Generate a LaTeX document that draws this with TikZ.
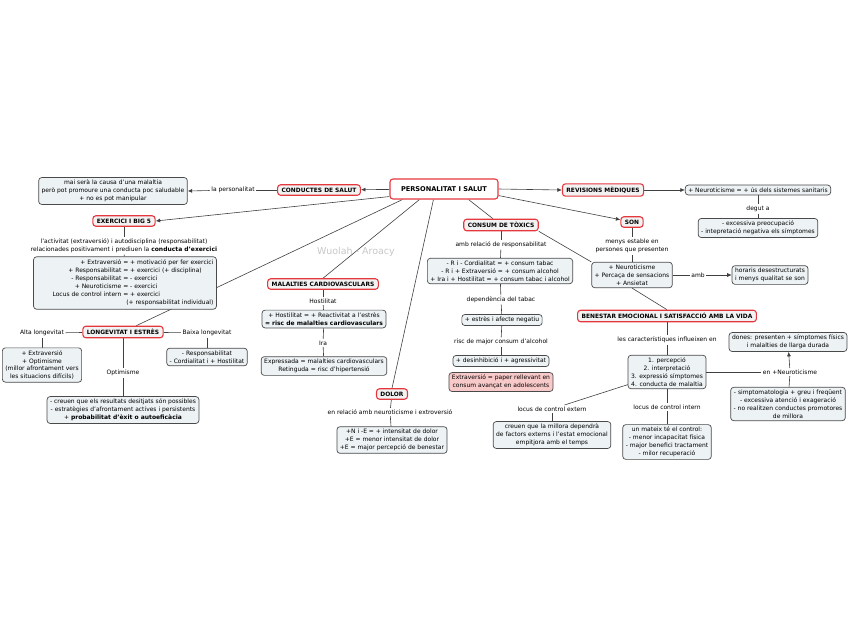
\documentclass[tikz,border=0pt]{standalone}
\usepackage{fontspec}
\setmainfont{DejaVu Sans}
\usetikzlibrary{arrows.meta,backgrounds}

\definecolor{vermell}{HTML}{E5383E}
\definecolor{fonscaixa}{HTML}{EDF2F4}
\definecolor{voracaixa}{HTML}{4A4A4A}
\definecolor{rosa}{HTML}{F8C9C9}
\definecolor{fonstema}{HTML}{F2F2F2}

\tikzset{
  tema/.style={draw=vermell, line width=1.1pt, fill=fonstema, rounded corners=3pt,
    font=\fontsize{5.9}{7}\selectfont\bfseries, inner xsep=4pt, inner ysep=3pt},
  arrel/.style={tema, fill=white, font=\fontsize{6.6}{8}\selectfont\bfseries,
    minimum width=108pt, minimum height=20pt},
  caixa/.style={draw=voracaixa, line width=0.7pt, fill=fonscaixa, rounded corners=3pt,
    align=center, font=\fontsize{6}{7.9}\selectfont, inner xsep=3pt, inner ysep=2.5pt},
  enllac/.style={align=center, font=\fontsize{6}{7.9}\selectfont, inner sep=1.5pt},
  linia/.style={draw=black!75, line width=0.6pt},
  fletxa/.style={linia, -{Latex[length=4.5pt,width=4pt]}},
}

\begin{document}
\begin{tikzpicture}[x=1pt,y=-1pt]
  \useasboundingbox (0,0) rectangle (848,638);

  % marca d'aigua
  \node[text=black!22, font=\fontsize{9.5}{11}\selectfont] (marca) at (356,252) {Wuolah - Aroacy};

  % conceptes
  \node[arrel] (arrel) at (444,189) {PERSONALITAT I SALUT};
  \node[tema] (conductes) at (319,190) {CONDUCTES DE SALUT};
  \node[tema] (exercici) at (124,221) {EXERCICI I BIG 5};
  \node[tema] (longevitat) at (123,332) {LONGEVITAT I ESTRÈS};
  \node[tema] (cardio) at (323,284) {MALALTIES CARDIOVASCULARS};
  \node[tema] (dolor) at (392,394) {DOLOR};
  \node[tema] (toxics) at (501,225) {CONSUM DE TÒXICS};
  \node[tema] (revisions) at (603,190) {REVISIONS MÈDIQUES};
  \node[tema] (son) at (632,222) {SON};
  \node[tema] (benestar) at (667,316) {BENESTAR EMOCIONAL I SATISFACCIÓ AMB LA VIDA};

  % caixes d'informació
  \node[caixa] (malaltia) at (113,191) {mai serà la causa d'una malaltia\\
    però pot promoure una conducta poc saludable\\+ no es pot manipular};
  \node[caixa] (big5) at (125,283) {\hspace*{16pt}\begin{tabular}{@{}r@{ = }l@{}}
    + Extraversió & + motivació per fer exercici\\
    + Responsabilitat & + exercici (+ disciplina)\\
    - Responsabilitat & - exercici\\
    + Neuroticisme & - exercici\\
    Locus de control intern & + exercici\\
    \multicolumn{2}{@{}r@{}}{(+ responsabilitat individual)}
  \end{tabular}};
  \node[caixa] (altabox) at (42,365) {+ Extraversió\\+ Optimisme\\(millor afrontament vers\\les situacions difícils)};
  \node[caixa] (baixabox) at (207,357) {- Responsabilitat\\- Cordialitat i + Hostilitat};
  \node[caixa] (optbox) at (123,410) {- creuen que els resultats desitjats són possibles\\
    - estratègies d'afrontament actives i persistents\\
    + \textbf{probabilitat d'èxit o autoeficàcia}};
  \node[caixa] (hostbox) at (324,319) {+ Hostilitat = + Reactivitat a l'estrès\\
    \textbf{= risc de malalties cardiovasculars}};
  \node[caixa] (irabox) at (324,366) {Expressada = malalties cardiovasculars\\Retinguda = risc d'hipertensió};
  \node[caixa] (dolorbox) at (392,440) {+N i -E = + intensitat de dolor\\
    +E = menor intensitat de dolor\\+E = major percepció de benestar};
  \node[caixa] (toxbox) at (500,271) {- R i - Cordialitat = + consum tabac\\
    - R i + Extraversió = + consum alcohol\\+ Ira i + Hostilitat = + consum tabac i alcohol};
  \node[caixa] (estres) at (502,320) {+ estrès i afecte negatiu};
  \node[caixa] (desinh) at (501,361) {+ desinhibició i + agressivitat};
  \node[caixa, fill=rosa] (adolesc) at (501,382) {Extraversió = paper rellevant en\\consum avançat en adolescents};
  \node[caixa] (sanitaris) at (758,190) {+ Neuroticisme = + ús dels sistemes sanitaris};
  \node[caixa] (preocup) at (758,228) {- excessiva preocupació\\- intepretació negativa els símptomes};
  \node[caixa] (neuro) at (632,275) {+ Neuroticisme\\+ Percaça de sensacions\\+ Ansietat};
  \node[caixa] (horaris) at (770,275) {horaris desestructurats\\i menys qualitat se son};
  \node[caixa] (percep) at (667,372) {1. percepció\\2. interpretació\\3. expressió símptomes\\4. conducta de malaltia};
  \node[caixa] (dones) at (788,342) {dones: presenten + símptomes físics\\i malalties de llarga durada};
  \node[caixa] (simpt) at (788,404) {- simptomatologia + greu i freqüent\\- excessiva atenció i exageració\\
    - no realitzen conductes promotores\\de millora};
  \node[caixa] (externbox) at (552,435) {creuen que la millora dependrà\\
    de factors externs i l'estat emocional\\empitjora amb el temps};
  \node[caixa] (internbox) at (667,442) {un mateix té el control:\\- menor incapacitat física\\
    - major benefici tractament\\- milor recuperació};

  % frases d'enllaç
  \node[enllac] (lapers) at (233,190) {la personalitat};
  \node[enllac] (activitat) at (124,246) {l'activitat (extraversió) i autodisciplina (responsabilitat)\\
    relacionades positivament i prediuen la \textbf{conducta d'exercici}};
  \node[enllac] (alta) at (42,333) {Alta longevitat};
  \node[enllac] (baixa) at (207,333) {Baixa longevitat};
  \node[enllac] (optimisme) at (123,373) {Optimisme};
  \node[enllac] (hostilitat) at (323,301) {Hostilitat};
  \node[enllac] (ira) at (323,343) {Ira};
  \node[enllac] (relneuro) at (390,412) {en relació amb neuroticisme i extroversió};
  \node[enllac] (relresp) at (501,245) {amb relació de responsabilitat};
  \node[enllac] (dependencia) at (501,300) {dependència del tabac};
  \node[enllac] (riscalc) at (501,342) {risc de major consum d'alcohol};
  \node[enllac] (degut) at (758,209) {degut a};
  \node[enllac] (estable) at (632,246) {menys estable en\\persones que presenten};
  \node[enllac] (amb) at (698,275) {amb};
  \node[enllac] (influeixen) at (667,340) {les característiques influeixen en};
  \node[enllac] (enneuro) at (790,372) {en +Neuroticisme};
  \node[enllac] (extern) at (552,409) {locus de control extern};
  \node[enllac] (intern) at (667,407) {locus de control intern};

  % connectors
  \begin{scope}[on background layer]
  \draw[fletxa] (arrel) -- (conductes);
  \draw[linia] (conductes) -- (lapers);
  \draw[fletxa] (lapers) -- (malaltia.east);
  \draw[fletxa] ([yshift=3pt]arrel.south west) -- (exercici.east);
  \draw[linia] (exercici) -- (activitat);
  \draw[linia] (activitat) -- (big5);
  \draw[linia] ([xshift=13pt]arrel.south west) -- (longevitat);
  \draw[linia] (longevitat) -- (alta);
  \draw[linia] (alta) -- (altabox);
  \draw[linia] (longevitat) -- (baixa);
  \draw[linia] (baixa) -- (baixabox);
  \draw[linia] (longevitat) -- (optimisme);
  \draw[linia] (optimisme) -- (optbox);
  \draw[linia] ([xshift=30pt]arrel.south west) -- (cardio.north);
  \draw[linia] (cardio) -- (hostilitat);
  \draw[linia] (hostilitat) -- (hostbox);
  \draw[linia] (hostbox) -- (ira);
  \draw[linia] (ira) -- (irabox);
  \draw[linia] ([xshift=44pt]arrel.south west) -- (dolor.north);
  \draw[linia] (dolor) -- (relneuro);
  \draw[linia] (relneuro) -- (dolorbox);
  \draw[linia] ([xshift=-30pt]arrel.south east) -- (toxics);
  \draw[linia] (toxics) -- (relresp);
  \draw[linia] (relresp) -- (toxbox);
  \draw[linia] (toxbox) -- (dependencia);
  \draw[linia] (dependencia) -- (estres);
  \draw[linia] (estres) -- (riscalc);
  \draw[linia] (riscalc) -- (desinh);
  \draw[linia] (toxics.south east) -- (neuro.north west);
  \draw[fletxa] (arrel.east) -- (revisions.west);
  \draw[fletxa] (revisions) -- (sanitaris);
  \draw[linia] (sanitaris) -- (degut);
  \draw[linia] (degut) -- (preocup);
  \draw[fletxa] ([yshift=4pt]arrel.south east) -- (son);
  \draw[linia] (son) -- (estable);
  \draw[linia] (estable) -- (neuro);
  \draw[linia] (neuro) -- (amb);
  \draw[fletxa] (amb) -- (horaris);
  \draw[linia] (neuro.south) -- (benestar.north);
  \draw[linia] (benestar) -- (influeixen);
  \draw[linia] (influeixen) -- (percep);
  \draw[linia] (percep) -- (enneuro);
  \draw[fletxa] (enneuro) -- (dones);
  \draw[linia] (enneuro) -- (simpt);
  \draw[linia] (percep) -- (extern);
  \draw[linia] (extern) -- (externbox);
  \draw[linia] (percep) -- (intern);
  \draw[linia] (intern) -- (internbox);
  \end{scope}
\end{tikzpicture}
\end{document}
